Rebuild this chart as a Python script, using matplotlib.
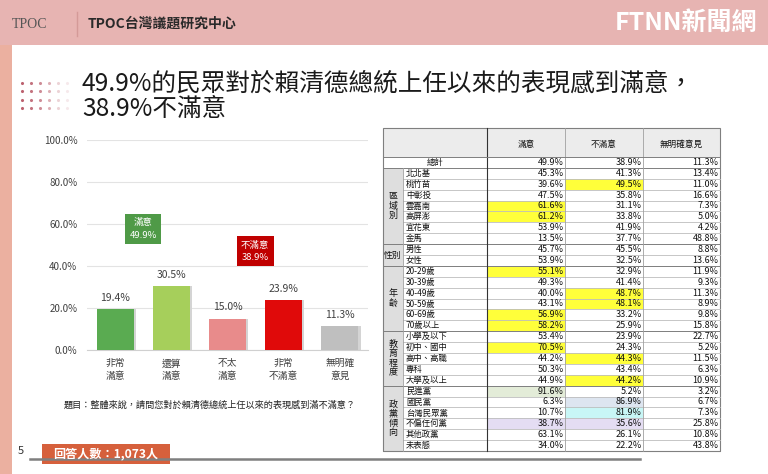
import matplotlib
matplotlib.use('Agg')
import matplotlib.pyplot as plt
from matplotlib.patches import Rectangle

plt.rcParams['font.family'] = ['Noto Sans CJK TC', 'DejaVu Sans']

# bar chart data
categories = ['非常\n滿意', '還算\n滿意', '不太\n滿意', '非常\n不滿意', '無明確\n意見']
values = [19.4, 30.5, 15.0, 23.9, 11.3]
bar_colors = ['#5aab51', '#a6cf5b', '#e88b8b', '#e00a0a', '#bfbfbf']

# table data
col_headers = ['滿意', '不滿意', '無明確意見']
row_labels = ['總計',
              '北北基', '桃竹苗', '中彰投', '雲嘉南', '高屏澎', '宜花東', '金馬',
              '男性', '女性',
              '20-29歲', '30-39歲', '40-49歲', '50-59歲', '60-69歲', '70歲以上',
              '小學及以下', '初中、國中', '高中、高職', '專科', '大學及以上',
              '民進黨', '國民黨', '台灣民眾黨', '不偏任何黨', '其他政黨', '未表態']
satisfied = [49.9, 45.3, 39.6, 47.5, 61.6, 61.2, 53.9, 13.5, 45.7, 53.9,
             55.1, 49.3, 40.0, 43.1, 56.9, 58.2, 53.4, 70.5, 44.2, 50.3, 44.9,
             91.6, 6.3, 10.7, 38.7, 63.1, 34.0]
dissatisfied = [38.9, 41.3, 49.5, 35.8, 31.1, 33.8, 41.9, 37.7, 45.5, 32.5,
                32.9, 41.4, 48.7, 48.1, 33.2, 25.9, 23.9, 24.3, 44.3, 43.4, 44.2,
                5.2, 86.9, 81.9, 35.6, 26.1, 22.2]
no_opinion = [11.3, 13.4, 11.0, 16.6, 7.3, 5.0, 4.2, 48.8, 8.8, 13.6,
              11.9, 9.3, 11.3, 8.9, 9.8, 15.8, 22.7, 5.2, 11.5, 6.3, 10.9,
              3.2, 6.7, 7.3, 25.8, 10.8, 43.8]
group_names = ['區域別', '性別', '年齡', '教育程度', '政黨傾向']
group_sizes = [7, 2, 6, 5, 6]
highlights = {('桃竹苗', 1): '#ffff3a', ('雲嘉南', 0): '#ffff3a', ('高屏澎', 0): '#ffff3a',
              ('20-29歲', 0): '#ffff3a', ('40-49歲', 1): '#ffff3a', ('50-59歲', 1): '#ffff3a',
              ('60-69歲', 0): '#ffff3a', ('70歲以上', 0): '#ffff3a', ('初中、國中', 0): '#ffff3a',
              ('高中、高職', 1): '#ffff3a', ('大學及以上', 1): '#ffff3a',
              ('民進黨', 0): '#e3ecd8', ('國民黨', 1): '#dde5f0', ('台灣民眾黨', 1): '#c8f6f6',
              ('不偏任何黨', 0): '#e4ddf3', ('不偏任何黨', 1): '#e4ddf3'}

fig = plt.figure(figsize=(7.68, 4.74), dpi=100)
fig.patch.set_facecolor('white')

# page decorations in pixel coords
bg = fig.add_axes([0, 0, 1, 1])
bg.set_xlim(0, 768)
bg.set_ylim(474, 0)
bg.axis('off')

bg.add_patch(Rectangle((0, 0), 768, 45, color='#e7b4b2', lw=0))
bg.add_patch(Rectangle((0, 45), 12, 429, color='#ebb0a0', lw=0))
bg.text(12, 24, 'TPOC', fontsize=10, family=['Liberation Serif', 'DejaVu Serif'],
        color='#555555', va='center')
bg.plot([77, 77], [12, 36], color='#d49a98', lw=1)
bg.text(88, 24, 'TPOC台灣議題研究中心', fontsize=10, color='#2a2a2a',
        va='center', fontweight='bold')
bg.text(757, 23, 'FTNN新聞網', fontsize=18, color='white', va='center',
        ha='right', fontweight='bold', style='italic')

for j in range(4):
    for i in range(6):
        bg.scatter(22 + 9 * i, 83 + 8.4 * j, s=5, color='#b5505f',
                   alpha=[0.9, 0.8, 0.65, 0.45, 0.25, 0.12][i], lw=0)
bg.text(82, 83, '49.9%的民眾對於賴清德總統上任以來的表現感到滿意，',
        fontsize=17.7, color='#1a1a1a', va='center')
bg.text(82, 109, '38.9%不滿意', fontsize=17.7, color='#1a1a1a', va='center')

bg.text(210, 405, '題目：整體來說，請問您對於賴清德總統上任以來的表現感到滿不滿意？',
        fontsize=6.6, color='#222222', ha='center', va='center')
bg.plot([30, 640], [459, 459], color='#7f7f7f', lw=1.8)
bg.add_patch(Rectangle((42, 444), 128, 20, color='#d6603c', lw=0))
bg.text(106, 454, '回答人數：1,073人', fontsize=8.7, color='white',
        fontweight='bold', ha='center', va='center')
bg.text(18, 451, '5', fontsize=8, color='#333333', va='center')

# table
x_cols = [383, 403, 487, 565, 643, 720]
top, head_bot, bottom = 128, 157, 451
row_h = (bottom - head_bot) / len(row_labels)

bg.add_patch(Rectangle((x_cols[0], top), x_cols[-1] - x_cols[0], head_bot - top,
                       facecolor='#ececec', edgecolor='none'))
for k, h in enumerate(col_headers):
    bg.text((x_cols[k + 2] + x_cols[k + 3]) / 2, 144, h, fontsize=6.2,
            ha='center', va='center', color='#111111')

for r, lab in enumerate(row_labels):
    y0 = head_bot + r * row_h
    for c, v in enumerate([satisfied[r], dissatisfied[r], no_opinion[r]]):
        fc = highlights.get((lab, c))
        if fc:
            bg.add_patch(Rectangle((x_cols[c + 2], y0), x_cols[c + 3] - x_cols[c + 2],
                                   row_h, facecolor=fc, edgecolor='none'))
        bg.text(x_cols[c + 3] - 1.5, y0 + row_h / 2, f'{v:.1f}%', fontsize=6.5,
                ha='right', va='center', color='#111111')
    if r == 0:
        bg.text((x_cols[0] + x_cols[2]) / 2, y0 + row_h / 2, lab, fontsize=6,
                ha='center', va='center', color='#111111')
        bg.plot([x_cols[0], x_cols[-1]], [y0 + row_h] * 2, color='#7f7f7f', lw=0.7)
    else:
        bg.text(x_cols[1] + 3, y0 + row_h / 2, lab, fontsize=6,
                ha='left', va='center', color='#111111')
        bg.plot([x_cols[1], x_cols[-1]], [y0 + row_h] * 2, color='#bdbdbd', lw=0.6)

start = 1
for name, n in zip(group_names, group_sizes):
    y0 = head_bot + start * row_h
    bg.add_patch(Rectangle((x_cols[0], y0), x_cols[1] - x_cols[0], n * row_h,
                           facecolor='#dedede', edgecolor='none'))
    if n <= 2:
        bg.text(x_cols[0] + 1, y0 + n * row_h / 2, name, fontsize=6.3,
                ha='left', va='center', color='#111111')
    else:
        bg.text((x_cols[0] + x_cols[1]) / 2, y0 + n * row_h / 2, '\n'.join(name),
                fontsize=6.5, ha='center', va='center', color='#111111', linespacing=1.05)
    bg.plot([x_cols[0], x_cols[-1]], [y0 + n * row_h] * 2, color='#7f7f7f', lw=0.7)
    start += n

for xc in x_cols[2:-1]:
    bg.plot([xc, xc], [top, bottom], color='#a0a0a0', lw=0.6)
bg.plot([x_cols[2], x_cols[2]], [top, bottom], color='#333333', lw=0.8)
bg.plot([x_cols[1], x_cols[1]], [head_bot + row_h, bottom], color='#a0a0a0', lw=0.6)
bg.plot([x_cols[0], x_cols[-1]], [head_bot, head_bot], color='#7f7f7f', lw=0.7)
bg.add_patch(Rectangle((x_cols[0], top), x_cols[-1] - x_cols[0], bottom - top,
                       facecolor='none', edgecolor='#7f7f7f', lw=0.8))

# bar chart
ax = fig.add_axes([87 / 768, (474 - 350) / 474, 281 / 768, 210 / 474])
ax.patch.set_alpha(0)
x = list(range(len(values)))
ax.bar([i + 0.04 for i in x], values, width=0.66, color='#d4d4d4', zorder=2)
ax.bar(x, values, width=0.66, color=bar_colors, zorder=3)
for i, v in zip(x, values):
    ax.text(i, v + 3, f'{v:.1f}%', ha='center', va='bottom', fontsize=7.5,
            color='#404040')
ax.set_xlim(-0.5, 4.5)
ax.set_ylim(0, 100)
ax.set_yticks(range(0, 101, 20))
ax.set_yticklabels([f'{t:.1f}%' for t in range(0, 101, 20)], fontsize=7, color='#404040')
ax.set_xticks(x)
ax.set_xticklabels(categories, fontsize=7, color='#404040', linespacing=1.3)
ax.tick_params(length=0, pad=6)
ax.tick_params(axis='y', pad=7)
ax.grid(axis='y', color='#e3e3e3', lw=0.8, zorder=0)
for s in ['top', 'right', 'left']:
    ax.spines[s].set_visible(False)
ax.spines['bottom'].set_color('#d0d0d0')

sat_total = values[0] + values[1]
dis_total = values[2] + values[3]
ax.text(0.5, 57.5, f'滿意\n{sat_total:.1f}%', ha='center', va='center', fontsize=6.8,
        color='white', linespacing=1.5, zorder=4,
        bbox=dict(boxstyle='square,pad=0.45', facecolor='#4f9a47', edgecolor='none'))
ax.text(2.49, 47, f'不滿意\n{dis_total:.1f}%', ha='center', va='center', fontsize=6.8,
        color='white', linespacing=1.5, zorder=4,
        bbox=dict(boxstyle='square,pad=0.45', facecolor='#c00000', edgecolor='none'))

fig.savefig('out.png', dpi=100)
